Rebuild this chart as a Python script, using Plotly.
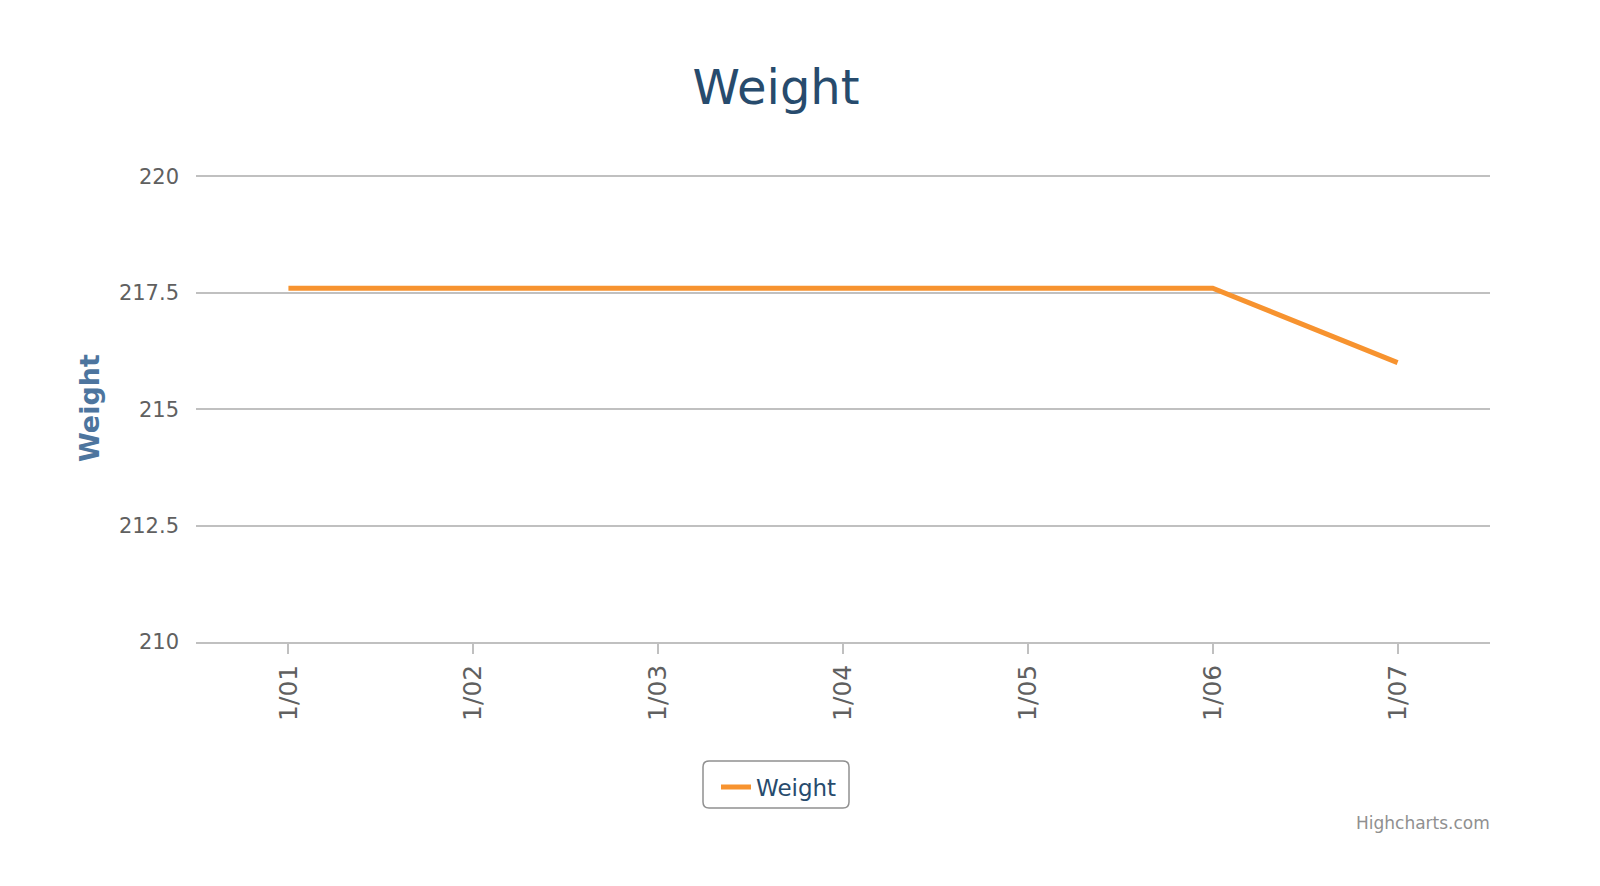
import plotly.graph_objects as go

categories = ["1/01", "1/02", "1/03", "1/04", "1/05", "1/06", "1/07"]
weights = [217.6, 217.6, 217.6, 217.6, 217.6, 217.6, 216.0]
y_ticks = [210, 212.5, 215, 217.5, 220]
y_tick_labels = ["210", "212.5", "215", "217.5", "220"]

# page body has an 8px margin; work in figure coordinates (screen - 8)
OFF = 8
W, H = 1592, 878
L, R, T, B = 188, 110, 167, 244
pw, ph = W - L - R, H - T - B
FONT = "DejaVu Sans"

def px_x(x):
    return (x - OFF - L) / pw

def px_y(y):
    return (H - B - (y - OFF)) / ph

fig = go.Figure()
fig.add_trace(go.Scatter(
    x=categories, y=weights, mode="lines", name="Weight",
    line=dict(color="#f7932f", width=5),
))

# rounded legend box (screen coordinates)
x0, x1, y0, y1, r = 703, 849, 761, 808, 6
def P(x, y):
    return f"{px_x(x):.5f},{px_y(y):.5f}"
path = (f"M {P(x0 + r, y0)} L {P(x1 - r, y0)} Q {P(x1, y0)} {P(x1, y0 + r)} "
        f"L {P(x1, y1 - r)} Q {P(x1, y1)} {P(x1 - r, y1)} "
        f"L {P(x0 + r, y1)} Q {P(x0, y1)} {P(x0, y1 - r)} "
        f"L {P(x0, y0 + r)} Q {P(x0, y0)} {P(x0 + r, y0)} Z")
fig.add_shape(type="path", xref="paper", yref="paper", path=path,
              line=dict(color="#909090", width=1.5), fillcolor="rgba(0,0,0,0)")

fig.update_layout(
    width=W, height=H,
    margin=dict(l=L, r=R, t=T, b=B),
    paper_bgcolor="white", plot_bgcolor="white",
    font=dict(family=FONT, color="#606060"),
    title=dict(text="Weight", x=(776 - OFF) / W, xanchor="center",
               y=1 - (87 - OFF) / H, yanchor="middle", yref="container",
               font=dict(family=FONT, size=48, color="#274b6d")),
    showlegend=True,
    legend=dict(orientation="h", x=px_x(779), xanchor="center",
                y=px_y(787), yanchor="middle",
                font=dict(family=FONT, size=23, color="#274b6d"),
                bgcolor="rgba(0,0,0,0)", borderwidth=0),
    xaxis=dict(
        type="category", range=[-0.5, 6.5],
        showgrid=False, showline=True, linecolor="#c0c0c0", linewidth=1.5,
        ticks="outside", ticklen=10, tickcolor="#c0c0c0", tickwidth=1.5,
        tickangle=-90, tickfont=dict(family=FONT, size=25, color="#606060"),
        ticklabelstandoff=1, zeroline=False,
    ),
    yaxis=dict(
        range=[210, 220.03], tickvals=y_ticks, ticktext=y_tick_labels,
        showgrid=True, gridcolor="#c0c0c0", gridwidth=1.5,
        showline=False, zeroline=False, ticks="",
        tickfont=dict(family=FONT, size=21, color="#606060"),
        ticklabelstandoff=16,
    ),
    annotations=[
        dict(text="<b>Weight</b>", textangle=-90, xref="paper", yref="paper",
             x=px_x(89), y=px_y(408), xanchor="center", yanchor="middle",
             showarrow=False, font=dict(family=FONT, size=27, color="#4d759e")),
        dict(text="Highcharts.com", xref="paper", yref="paper",
             x=px_x(1492), y=px_y(823), xanchor="right", yanchor="middle",
             showarrow=False, font=dict(family=FONT, size=17, color="#909090")),
    ],
)

fig.write_html("out.html")
